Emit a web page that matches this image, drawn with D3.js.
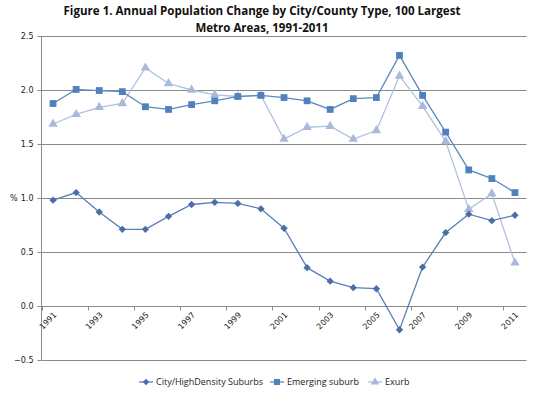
<!DOCTYPE html>
<html>
<head>
<meta charset="utf-8">
<script src="https://cdn.jsdelivr.net/npm/d3@7"></script>
<style>
  body { margin: 0; background: #fff; }
  svg { display: block; }
  .tick-label { font-family: "DejaVu Sans", Verdana, sans-serif; font-size: 8px; fill: #222; }
  .title { font-family: "Open Sans", "Liberation Sans", sans-serif; font-weight: bold; font-size: 12.5px; fill: #111; }
  .legend-label { font-family: "Open Sans", "Liberation Sans", sans-serif; font-size: 9px; fill: #222; }
</style>
</head>
<body>
<div id="chart"></div>
<script>
// data
const years = d3.range(1991, 2012).map(String);
const cityValues = [0.98, 1.05, 0.87, 0.71, 0.71, 0.83, 0.94, 0.96, 0.95, 0.90,
  0.72, 0.355, 0.23, 0.17, 0.16, -0.22, 0.36, 0.68, 0.85, 0.79, 0.84];
const emergingValues = [1.875, 2.005, 1.995, 1.985, 1.845, 1.82, 1.865, 1.90, 1.94, 1.95,
  1.93, 1.90, 1.82, 1.92, 1.93, 2.32, 1.95, 1.61, 1.26, 1.18, 1.05];
const exurbValues = [1.685, 1.775, 1.84, 1.875, 2.205, 2.06, 2.0, 1.955, 1.94, 1.95,
  1.545, 1.655, 1.665, 1.545, 1.625, 2.13, 1.85, 1.525, 0.895, 1.04, 0.40];
const yTicks = [-0.5, 0.0, 0.5, 1.0, 1.5, 2.0, 2.5];
const seriesNames = ['City/HighDensity Suburbs', 'Emerging suburb', 'Exurb'];

const width = 545, height = 395;
const margin = { top: 36, right: 18.5, bottom: 35, left: 41.5 };

const svg = d3.select('#chart').append('svg')
  .attr('width', width)
  .attr('height', height);

const x = d3.scaleBand()
  .domain(years)
  .range([margin.left, width - margin.right]);

const y = d3.scaleLinear()
  .domain([-0.5, 2.5])
  .range([height - margin.bottom, margin.top]);

// title
svg.append('text').attr('class', 'title')
  .attr('x', 262).attr('y', 15)
  .attr('text-anchor', 'middle')
  .attr('textLength', 397).attr('lengthAdjust', 'spacingAndGlyphs')
  .text('Figure 1. Annual Population Change by City/County Type, 100 Largest');
svg.append('text').attr('class', 'title')
  .attr('x', 262).attr('y', 32)
  .attr('text-anchor', 'middle')
  .attr('textLength', 133).attr('lengthAdjust', 'spacingAndGlyphs')
  .text('Metro Areas, 1991-2011');

// gridlines
svg.append('g').selectAll('line')
  .data(yTicks.filter(d => d !== 0))
  .join('line')
  .attr('x1', margin.left).attr('x2', width - margin.right)
  .attr('y1', d => Math.round(y(d)) + 0.5).attr('y2', d => Math.round(y(d)) + 0.5)
  .attr('stroke', '#8a8a8a').attr('stroke-width', 1);

// y axis
const yAxis = svg.append('g')
  .attr('transform', `translate(${margin.left},0)`);
yAxis.append('line')
  .attr('x1', 0).attr('x2', 0)
  .attr('y1', y(2.5)).attr('y2', y(-0.5))
  .attr('stroke', '#8a8a8a');
yAxis.selectAll('.ytick')
  .data(yTicks)
  .join('line')
  .attr('x1', -4).attr('x2', 0)
  .attr('y1', d => Math.round(y(d)) + 0.5).attr('y2', d => Math.round(y(d)) + 0.5)
  .attr('stroke', '#8a8a8a');
yAxis.selectAll('text')
  .data(yTicks)
  .join('text')
  .attr('class', 'tick-label')
  .attr('x', -8)
  .attr('y', d => y(d) + 3)
  .attr('text-anchor', 'end')
  .text(d => d3.format('.1f')(d));

svg.append('text').attr('class', 'tick-label')
  .attr('x', 10).attr('y', y(1.0) + 3)
  .text('%');

// x axis at zero
const y0 = Math.round(y(0)) + 0.5;
svg.append('line')
  .attr('x1', margin.left).attr('x2', width - margin.right)
  .attr('y1', y0).attr('y2', y0)
  .attr('stroke', '#8a8a8a');
const tickPos = d3.range(0, years.length + 1, 2).map(i => margin.left + i * x.bandwidth());
svg.append('g').selectAll('line')
  .data(tickPos)
  .join('line')
  .attr('x1', d => Math.round(d) + 0.5).attr('x2', d => Math.round(d) + 0.5)
  .attr('y1', y0).attr('y2', y0 + 4)
  .attr('stroke', '#8a8a8a');
svg.append('g').selectAll('text')
  .data(years.filter((d, i) => i % 2 === 0))
  .join('text')
  .attr('class', 'tick-label')
  .attr('text-anchor', 'end')
  .attr('transform', d => `translate(${x(d) + x.bandwidth() / 2 + 4},${y0 + 9}) rotate(-45)`)
  .text(d => d);

// series (diamond = square turned 45 degrees)
const series = [
  { name: seriesNames[0], values: cityValues, color: '#4a6fa8', marker: d3.symbolSquare, rot: 45, size: 27, line: '#5a7fb5' },
  { name: seriesNames[1], values: emergingValues, color: '#4f81bd', marker: d3.symbolSquare, rot: 0, size: 46, line: '#5b8ac2' },
  { name: seriesNames[2], values: exurbValues, color: '#a9b9d9', marker: d3.symbolTriangle, rot: 0, size: 38, line: '#b0c0de' }
];

const cx = d => x(d) + x.bandwidth() / 2;
const line = d3.line()
  .x((d, i) => cx(years[i]))
  .y(d => y(d));

// draw in reverse so city is on top
series.slice().reverse().forEach(s => {
  svg.append('path')
    .datum(s.values)
    .attr('fill', 'none')
    .attr('stroke', s.line)
    .attr('stroke-width', 1.3)
    .attr('d', line);
  svg.append('g').selectAll('path')
    .data(s.values)
    .join('path')
    .attr('transform', (d, i) => `translate(${cx(years[i])},${y(d)}) rotate(${s.rot})`)
    .attr('d', d3.symbol().type(s.marker).size(s.size))
    .attr('fill', s.color);
});

// legend
const legendX = [139, 270, 368];
const legendY = 382;
const legend = svg.append('g');
series.forEach((s, i) => {
  const g = legend.append('g').attr('transform', `translate(${legendX[i]},${legendY})`);
  g.append('line')
    .attr('x1', 0).attr('x2', 14)
    .attr('y1', 0).attr('y2', 0)
    .attr('stroke', s.line).attr('stroke-width', 1.3);
  g.append('path')
    .attr('transform', `translate(7,0) rotate(${s.rot})`)
    .attr('d', d3.symbol().type(s.marker).size(s.size * 0.8))
    .attr('fill', s.color);
  g.append('text')
    .attr('class', 'legend-label')
    .attr('x', 17).attr('y', 3)
    .text(s.name);
});
</script>
</body>
</html>
